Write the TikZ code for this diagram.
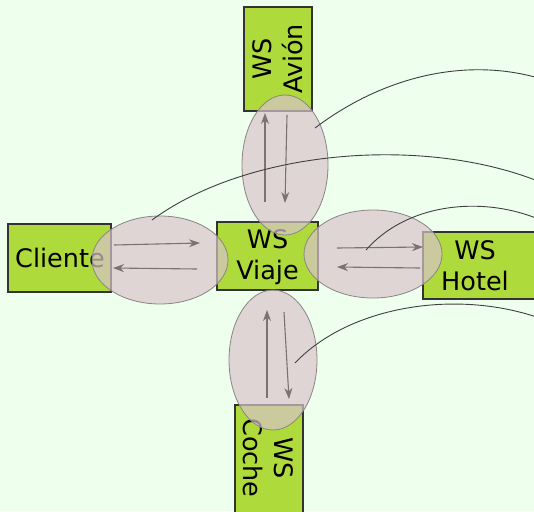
\documentclass[tikz,border=0pt]{standalone}
\usepackage{fontspec}
\setmainfont{DejaVu Sans}
\usetikzlibrary{shapes.geometric,arrows.meta}
\definecolor{bgc}{HTML}{EEFFEE}
\definecolor{boxg}{HTML}{AFDA3C}
\definecolor{elc}{HTML}{D8C4CA}
\definecolor{eld}{HTML}{8A8486}
\definecolor{arc}{HTML}{7F7076}
\definecolor{cvc}{HTML}{404040}
\tikzset{
  wsbox/.style={draw=black!80, line width=1.3pt, fill=boxg, inner sep=0pt},
  wstext/.style={font=\fontsize{25.5}{31}\selectfont, align=center, inner sep=0pt},
  msgell/.style={ellipse, draw=eld, line width=0.8pt, fill=elc, fill opacity=0.7, inner sep=0pt},
  msgarrow/.style={draw=arc, line width=1.1pt, -{Stealth[length=11pt,width=8pt,inset=3.5pt]}},
  link/.style={draw=cvc, line width=0.9pt}
}
\begin{document}
\begin{tikzpicture}[x=1pt,y=-1pt]
\fill[bgc] (0,0) rectangle (534,511);
\useasboundingbox (0,0) rectangle (534,511);
% boxes
\node[wsbox, minimum width=68pt, minimum height=104pt] (avion) at (278,59) {};
\node[wstext, rotate=90] (aviontext) at (278,59) {WS\\Avión};
\node[wsbox, minimum width=103pt, minimum height=68pt] (cliente) at (59.5,258) {};
\node[wstext] (clientetext) at (60,258) {Cliente};
\node[wsbox, minimum width=101pt, minimum height=68pt] (viaje) at (267.5,256) {};
\node[wstext] (viajetext) at (267.5,257) {WS\\Viaje};
\node[wsbox, minimum width=130pt, minimum height=67pt] (hotel) at (488,265.5) {};
\node[wstext] (hoteltext) at (475,266) {WS\\Hotel};
\node[wsbox, minimum width=68pt, minimum height=130pt] (coche) at (269,470) {};
\node[wstext, rotate=-90] (cochetext) at (268,458) {WS\\Coche};
% ellipses
\node[msgell, minimum width=86pt, minimum height=140pt] (etop) at (285,165) {};
\node[msgell, minimum width=136pt, minimum height=88pt] (eleft) at (160,260) {};
\node[msgell, minimum width=138pt, minimum height=88pt] (eright) at (373,254) {};
\node[msgell, minimum width=88pt, minimum height=140pt] (ebot) at (273,360) {};
% arrow end points
\coordinate (t1a) at (265,202); \coordinate (t1b) at (265,113);
\coordinate (t2a) at (287,115); \coordinate (t2b) at (285,203);
\coordinate (l1a) at (114,245); \coordinate (l1b) at (200,243);
\coordinate (l2a) at (197,269); \coordinate (l2b) at (113,268);
\coordinate (r1a) at (337,248); \coordinate (r1b) at (423,247);
\coordinate (r2a) at (420,268); \coordinate (r2b) at (337,267);
\coordinate (b1a) at (267,398); \coordinate (b1b) at (267,310);
\coordinate (b2a) at (284,312); \coordinate (b2b) at (289,399);
\draw[msgarrow] (t1a) -- (t1b);
\draw[msgarrow] (t2a) -- (t2b);
\draw[msgarrow] (l1a) -- (l1b);
\draw[msgarrow] (l2a) -- (l2b);
\draw[msgarrow] (r1a) -- (r1b);
\draw[msgarrow] (r2a) -- (r2b);
\draw[msgarrow] (b1a) -- (b1b);
\draw[msgarrow] (b2a) -- (b2b);
% curves
\coordinate (c1s) at (315,128); \coordinate (c1e) at (545,80);
\coordinate (c2s) at (152,220); \coordinate (c2e) at (545,184);
\coordinate (c3s) at (366,250); \coordinate (c3e) at (545,222);
\coordinate (c4s) at (295,363); \coordinate (c4e) at (545,320);
\draw[link] (c1s) .. controls (385,75) and (470,56) .. (c1e);
\draw[link] (c2s) .. controls (250,148) and (430,135) .. (c2e);
\draw[link] (c3s) .. controls (410,200) and (490,196) .. (c3e);
\draw[link] (c4s) .. controls (350,305) and (460,288) .. (c4e);
\end{tikzpicture}
\end{document}
